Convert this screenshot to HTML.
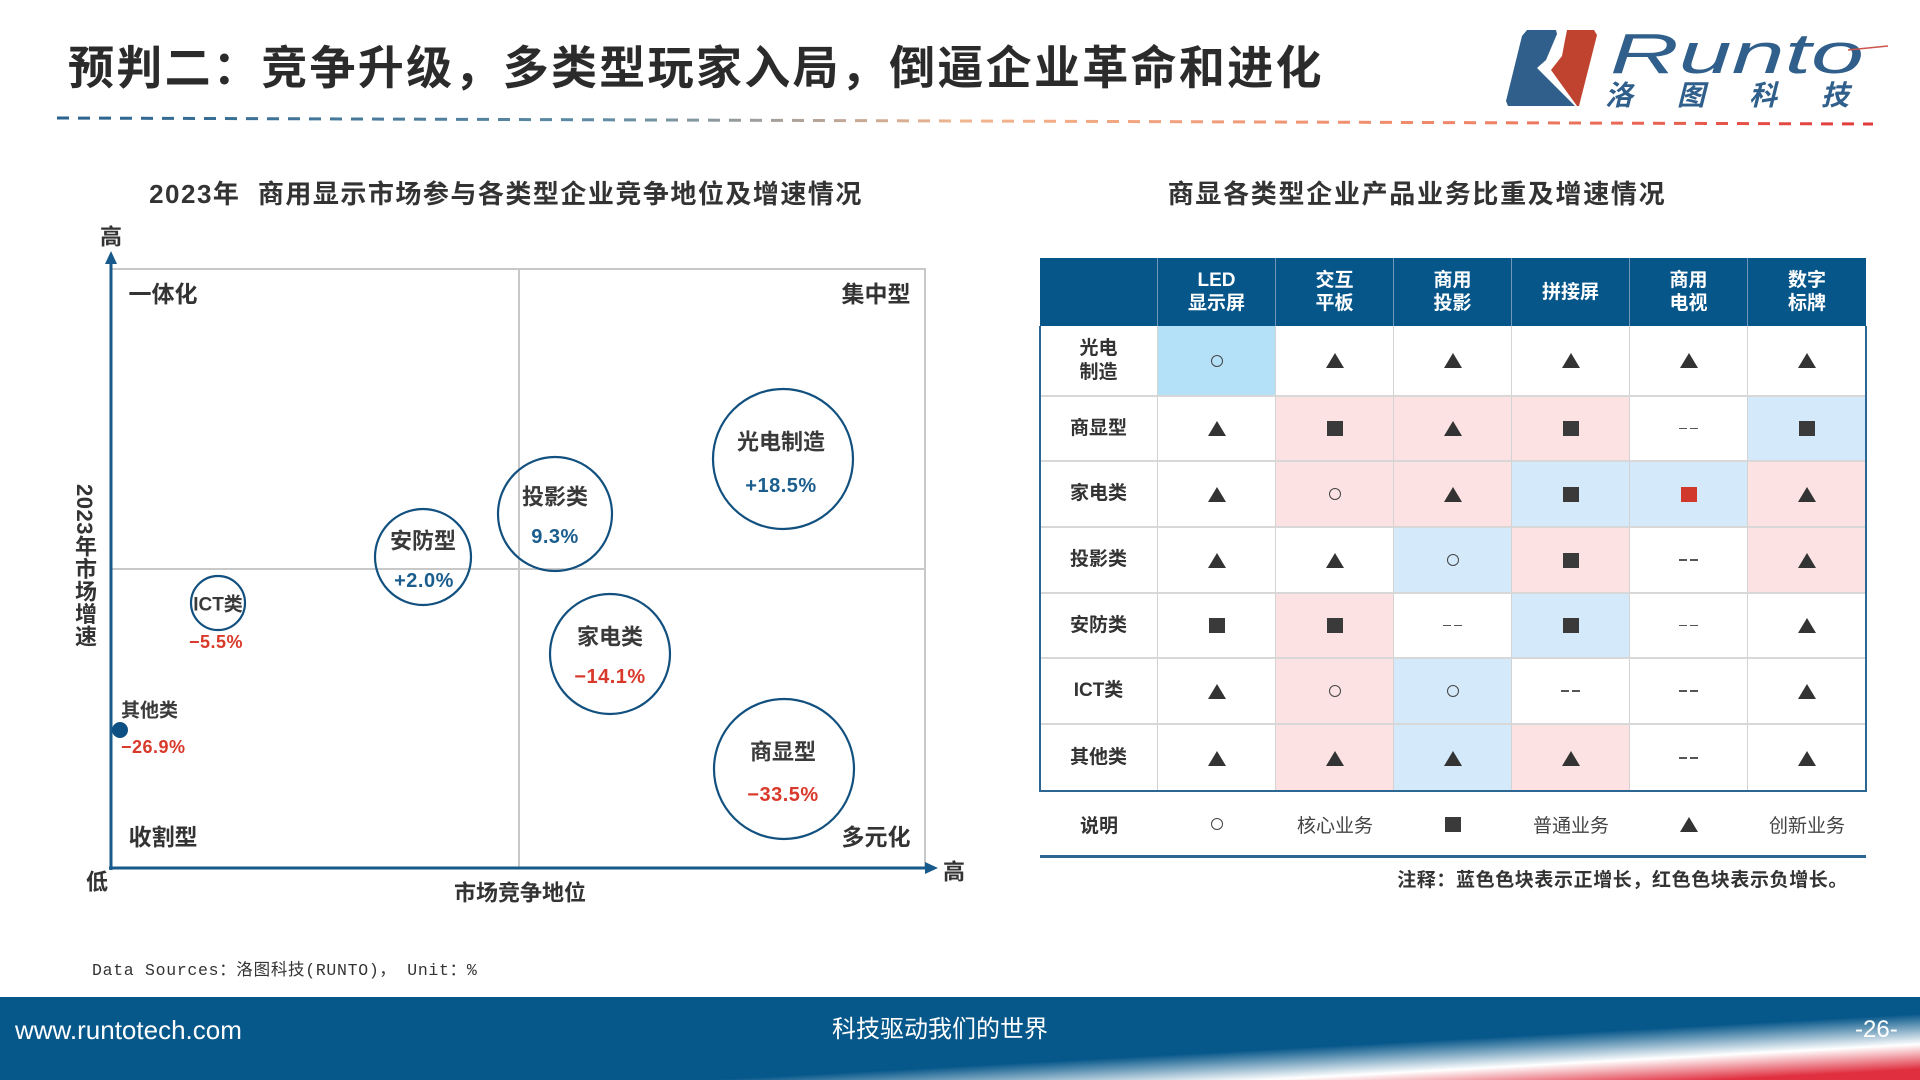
<!DOCTYPE html>
<html><head><meta charset="utf-8">
<style>
*{margin:0;padding:0;box-sizing:border-box}
html,body{width:1920px;height:1080px;overflow:hidden;background:#fff}
body{position:relative;font-family:"Liberation Sans","Noto Sans CJK SC",sans-serif;color:#333}
.abs{position:absolute}
#title{left:68px;top:44px;font-size:46px;line-height:48px;font-weight:bold;letter-spacing:2.3px;color:#2b2b2b;white-space:nowrap}
.ct{font-size:26px;line-height:30px;font-weight:bold;letter-spacing:1.5px;color:#333;white-space:nowrap;text-align:center}
#ylab{left:72px;top:484px;writing-mode:vertical-rl;text-orientation:mixed;font-size:22px;line-height:24px;font-weight:bold;color:#333;letter-spacing:0.5px}
#tbl{position:absolute;left:1040px;top:258px;width:826px;display:grid;grid-template-columns:repeat(7,118px);grid-template-rows:68px 71px 65px 66px 66px 65px 66px 66px}
.c{display:flex;align-items:center;justify-content:center;border-right:1px solid #d3d3d3;border-bottom:2px solid #d8d8d8;font-size:19px;font-weight:bold;color:#333;text-align:center;line-height:24px;background:#fff}
.h{background:#07568a;color:#fff;border-right:1px solid #6f98b8;border-bottom:none;line-height:23px}
.nr{border-right:none}
.nb{border-bottom:none}
.b{background:#d4eafb}.bb{background:#b5e1f8}.p{background:#fce2e2}
.tri{width:0;height:0;border-left:9px solid transparent;border-right:9px solid transparent;border-bottom:15px solid #333}
.sq{width:16px;height:15px;background:#3a3a3a}
.sqr{width:16px;height:15px;background:#d0392b}
.ci{width:12px;height:12px;border:1.5px solid #444;border-radius:50%}
.da{width:19px;height:1.5px;background:linear-gradient(90deg,#555 0 8px,transparent 8px 11px,#555 11px)}
#leg{position:absolute;left:1040px;top:791px;width:826px;height:66px;display:flex}
#leg>div{width:118px;height:66px;display:flex;align-items:center;justify-content:center;font-size:19px;color:#444}
.foot{color:#fff;font-size:25px;line-height:30px;top:1015px;white-space:nowrap}
</style></head>
<body>

<div id="title" class="abs">预判二：竞争升级，多类型玩家入局，倒逼企业革命和进化</div>

<!-- Logo -->
<svg class="abs" style="left:0;top:0" width="1920" height="140">
  <defs>
    <linearGradient id="dl" gradientUnits="userSpaceOnUse" x1="57" y1="0" x2="1873" y2="0">
      <stop offset="0" stop-color="#2a628e"/>
      <stop offset="0.3" stop-color="#5f8ca5"/>
      <stop offset="0.5" stop-color="#f2b58e"/>
      <stop offset="0.78" stop-color="#ef8466"/>
      <stop offset="1" stop-color="#e0393a"/>
    </linearGradient>
  </defs>
  <polygon points="1527,30 1556,30 1557,34 1546,60 1537,68 1575,106 1508,106 1506,101 1522,36" fill="#2f5f8a"/>
  <polygon points="1567,30 1594,30 1597,35 1579,106 1577,106 1551,70 1562,56 1565,40" fill="#c0432f"/>
  <text x="1610" y="73" font-family="Liberation Sans" font-style="italic" font-size="57" fill="#2f5f8a" textLength="254" lengthAdjust="spacingAndGlyphs">Runto</text>
  <line x1="1848" y1="50" x2="1888" y2="46" stroke="#c9564a" stroke-width="1.5"/>
  <text x="1605" y="105" font-family="Noto Sans CJK SC" font-weight="bold" font-style="italic" font-size="28" fill="#2f5f8a" textLength="244" lengthAdjust="spacing">洛图科技</text>
  <line x1="57" y1="118" x2="1873" y2="124" stroke="url(#dl)" stroke-width="3" stroke-dasharray="12 9"/>
</svg>

<div class="abs ct" style="left:106px;top:179px;width:800px">2023年&nbsp;&nbsp;商用显示市场参与各类型企业竞争地位及增速情况</div>
<div class="abs ct" style="left:1017px;top:179px;width:800px;letter-spacing:1.7px">商显各类型企业产品业务比重及增速情况</div>

<!-- Chart -->
<svg class="abs" style="left:0;top:0" width="1920" height="1080" font-family="Liberation Sans, Noto Sans CJK SC, sans-serif">
  <rect x="111" y="269" width="814" height="599" fill="none" stroke="#c8c8c8" stroke-width="2"/>
  <line x1="519" y1="269" x2="519" y2="868" stroke="#c8c8c8" stroke-width="2"/>
  <line x1="111" y1="569" x2="925" y2="569" stroke="#c8c8c8" stroke-width="2"/>
  <line x1="111" y1="870" x2="111" y2="260" stroke="#175a8b" stroke-width="3"/>
  <polygon points="111,251 105,264 117,264" fill="#175a8b"/>
  <line x1="109" y1="868" x2="926" y2="868" stroke="#175a8b" stroke-width="3"/>
  <polygon points="938,868 925,862 925,874" fill="#175a8b"/>

  <g font-weight="bold" fill="#333" font-size="22" text-anchor="middle" dominant-baseline="central">
    <text x="111" y="237">高</text>
    <text x="97" y="882">低</text>
    <text x="954" y="872">高</text>
    <text x="520" y="893">市场竞争地位</text>
    <text x="163" y="294" font-size="23">一体化</text>
    <text x="876" y="294" font-size="23">集中型</text>
    <text x="163" y="837" font-size="23">收割型</text>
    <text x="876" y="837" font-size="23">多元化</text>
  </g>

  <g fill="none" stroke="#11507f" stroke-width="2.2">
    <circle cx="783" cy="459" r="70"/>
    <circle cx="555" cy="514" r="57"/>
    <circle cx="423" cy="557" r="48"/>
    <circle cx="218" cy="603" r="27"/>
    <circle cx="610" cy="654" r="60"/>
    <circle cx="784" cy="769" r="70"/>
  </g>
  <circle cx="120" cy="730" r="8" fill="#0d5184"/>

  <g font-weight="bold" fill="#3a3a3a" font-size="22" text-anchor="middle" dominant-baseline="central">
    <text x="781" y="442">光电制造</text>
    <text x="555" y="497">投影类</text>
    <text x="423" y="541">安防型</text>
    <text x="218" y="605" font-size="19">ICT类</text>
    <text x="610" y="637">家电类</text>
    <text x="783" y="752">商显型</text>
    <text x="121" y="711" font-size="19" text-anchor="start">其他类</text>
  </g>
  <g font-weight="bold" font-size="20" text-anchor="middle" dominant-baseline="central" letter-spacing="0.5">
    <text x="781" y="486" fill="#1b5e8e">+18.5%</text>
    <text x="555" y="537" fill="#1b5e8e">9.3%</text>
    <text x="424" y="581" fill="#1b5e8e">+2.0%</text>
    <text x="216" y="642" fill="#d9392b" font-size="18">−5.5%</text>
    <text x="610" y="677" fill="#d9392b">−14.1%</text>
    <text x="783" y="795" fill="#d9392b">−33.5%</text>
    <text x="121" y="747" fill="#d9392b" font-size="18" text-anchor="start">−26.9%</text>
  </g>
</svg>
<div id="ylab" class="abs">2023年市场增速</div>

<!-- Table -->
<div id="tbl">
  <div class="c h"></div>
  <div class="c h">LED<br>显示屏</div>
  <div class="c h">交互<br>平板</div>
  <div class="c h">商用<br>投影</div>
  <div class="c h">拼接屏</div>
  <div class="c h">商用<br>电视</div>
  <div class="c h nr">数字<br>标牌</div>

  <div class="c">光电<br>制造</div>
  <div class="c bb"><div class="ci"></div></div>
  <div class="c"><div class="tri"></div></div>
  <div class="c"><div class="tri"></div></div>
  <div class="c"><div class="tri"></div></div>
  <div class="c"><div class="tri"></div></div>
  <div class="c nr"><div class="tri"></div></div>

  <div class="c">商显型</div>
  <div class="c"><div class="tri"></div></div>
  <div class="c p"><div class="sq"></div></div>
  <div class="c p"><div class="tri"></div></div>
  <div class="c p"><div class="sq"></div></div>
  <div class="c"><div class="da"></div></div>
  <div class="c b nr"><div class="sq"></div></div>

  <div class="c">家电类</div>
  <div class="c"><div class="tri"></div></div>
  <div class="c p"><div class="ci"></div></div>
  <div class="c p"><div class="tri"></div></div>
  <div class="c b"><div class="sq"></div></div>
  <div class="c b"><div class="sqr"></div></div>
  <div class="c p nr"><div class="tri"></div></div>

  <div class="c">投影类</div>
  <div class="c"><div class="tri"></div></div>
  <div class="c"><div class="tri"></div></div>
  <div class="c b"><div class="ci"></div></div>
  <div class="c p"><div class="sq"></div></div>
  <div class="c"><div class="da"></div></div>
  <div class="c p nr"><div class="tri"></div></div>

  <div class="c">安防类</div>
  <div class="c"><div class="sq"></div></div>
  <div class="c p"><div class="sq"></div></div>
  <div class="c"><div class="da"></div></div>
  <div class="c b"><div class="sq"></div></div>
  <div class="c"><div class="da"></div></div>
  <div class="c nr"><div class="tri"></div></div>

  <div class="c">ICT类</div>
  <div class="c"><div class="tri"></div></div>
  <div class="c p"><div class="ci"></div></div>
  <div class="c b"><div class="ci"></div></div>
  <div class="c"><div class="da"></div></div>
  <div class="c"><div class="da"></div></div>
  <div class="c nr"><div class="tri"></div></div>

  <div class="c nb">其他类</div>
  <div class="c nb"><div class="tri"></div></div>
  <div class="c p nb"><div class="tri"></div></div>
  <div class="c b nb"><div class="tri"></div></div>
  <div class="c p nb"><div class="tri"></div></div>
  <div class="c nb"><div class="da"></div></div>
  <div class="c nr nb"><div class="tri"></div></div>
</div>
<div class="abs" style="left:1039px;top:326px;width:828px;height:466px;border:2px solid #2c6793;border-top:none"></div>

<div id="leg">
  <div style="font-weight:bold;color:#333">说明</div>
  <div><div class="ci"></div></div>
  <div>核心业务</div>
  <div><div class="sq"></div></div>
  <div>普通业务</div>
  <div><div class="tri"></div></div>
  <div>创新业务</div>
</div>
<div class="abs" style="left:1040px;top:855px;width:826px;height:3px;background:#2c6793"></div>

<div class="abs" style="right:72px;top:869px;font-size:19px;line-height:24px;font-weight:bold;letter-spacing:0.6px;color:#333;white-space:nowrap">注释：蓝色色块表示正增长，红色色块表示负增长。</div>

<div class="abs" style="left:92px;top:961px;font-family:'Liberation Mono','Noto Sans CJK SC',monospace;font-size:16.5px;line-height:20px;letter-spacing:0.7px;color:#333;white-space:nowrap">Data Sources：洛图科技(RUNTO)， Unit：%</div>

<!-- Footer -->
<svg class="abs" style="left:0;top:997px" width="1920" height="83">
  <defs>
    <linearGradient id="fg" gradientUnits="userSpaceOnUse" x1="1568" y1="36" x2="1571" y2="91">
      <stop offset="0" stop-color="#06578a"/>
      <stop offset="0.55" stop-color="#ffffff"/>
      <stop offset="1" stop-color="#e03040"/>
    </linearGradient>
  </defs>
  <rect width="1920" height="83" fill="url(#fg)"/>
</svg>
<div class="abs foot" style="left:15px;font-size:26px">www.runtotech.com</div>
<div class="abs foot" style="left:740px;width:400px;text-align:center;font-size:24px">科技驱动我们的世界</div>
<div class="abs foot" style="left:1855px;font-size:24px">-26-</div>

</body></html>
